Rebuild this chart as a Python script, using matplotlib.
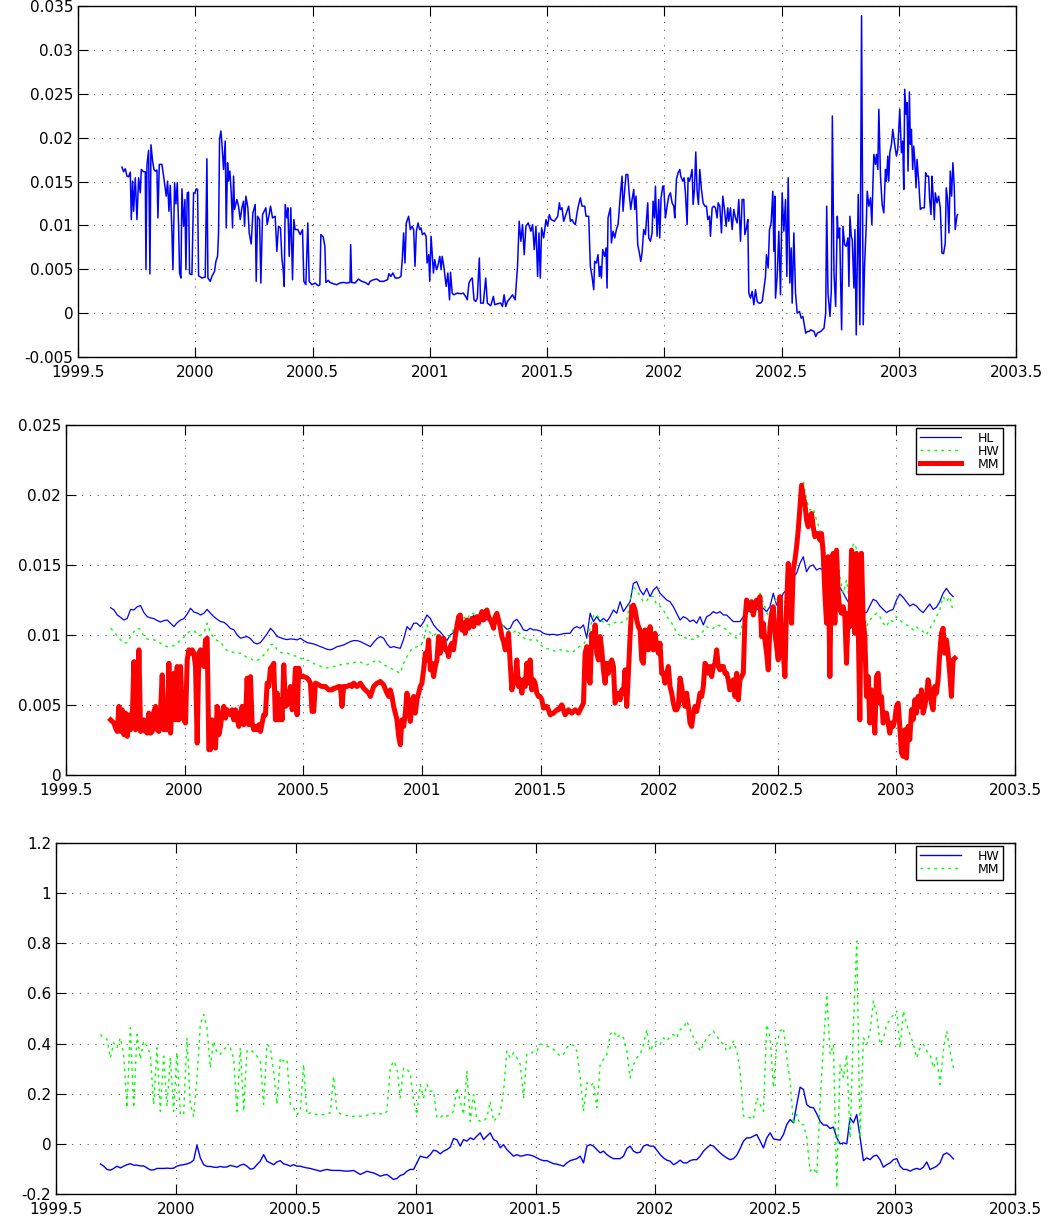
import numpy as np
import matplotlib
matplotlib.use('Agg')
import matplotlib.pyplot as plt
from matplotlib.ticker import FuncFormatter, MultipleLocator

# ---------------- data ----------------
# Panel 1: single series (values in units of 1e-3)
top_t = [1999.6875,1999.6946,1999.7017,1999.7088,1999.7159,1999.7230,1999.7273,1999.7329,1999.7372,1999.7443,
1999.7514,1999.7585,1999.7656,1999.7699,1999.7798,1999.7869,1999.7898,1999.7940,1999.8011,1999.8068,
1999.8111,1999.8182,1999.8239,1999.8295,1999.8366,1999.8409,1999.8466,1999.8579,1999.8650,1999.8764,
1999.8821,1999.8878,1999.8935,1999.9006,1999.9048,1999.9119,1999.9176,1999.9233,1999.9290,1999.9332,
1999.9389,1999.9432,1999.9503,1999.9560,1999.9602,1999.9659,1999.9716,1999.9758,1999.9858,1999.9929,
1999.9986,2000.0043,2000.0099,2000.0142,2000.0284,2000.0426,2000.0497,2000.0540,2000.0639,2000.0710,
2000.0824,2000.0881,2000.0952,2000.0994,2000.1037,2000.1094,2000.1136,2000.1207,2000.1278,2000.1321,
2000.1378,2000.1420,2000.1477,2000.1534,2000.1591,2000.1633,2000.1676,2000.1775,2000.1846,2000.1918,
2000.1989,2000.2060,2000.2102,2000.2159,2000.2244,2000.2301,2000.2386,2000.2457,2000.2557,2000.2599,
2000.2656,2000.2741,2000.2798,2000.2869,2000.3011,2000.3068,2000.3125,2000.3210,2000.3295,2000.3409,
2000.3480,2000.3551,2000.3636,2000.3693,2000.3750,2000.3793,2000.3835,2000.3906,2000.3949,2000.4006,
2000.4077,2000.4148,2000.4204,2000.4261,2000.4375,2000.4474,2000.4574,2000.4631,2000.4716,2000.4801,
2000.4858,2000.4972,2000.5114,2000.5243,2000.5314,2000.5357,2000.5457,2000.5528,2000.5571,2000.5671,
2000.5743,2000.5886,2000.6028,2000.6171,2000.6314,2000.6457,2000.6600,2000.6628,2000.6671,2000.6814,
2000.6957,2000.7100,2000.7243,2000.7386,2000.7457,2000.7600,2000.7743,2000.7886,2000.8028,2000.8200,
2000.8257,2000.8343,2000.8428,2000.8528,2000.8671,2000.8771,2000.8828,2000.8886,2000.8943,2000.9000,
2000.9100,2000.9171,2000.9243,2000.9314,2000.9371,2000.9428,2000.9500,2000.9571,2000.9628,2000.9686,
2000.9771,2000.9843,2000.9886,2000.9957,2001.0000,2001.0057,2001.0114,2001.0157,2001.0214,2001.0286,
2001.0343,2001.0428,2001.0486,2001.0528,2001.0600,2001.0700,2001.0771,2001.0843,2001.0886,2001.0957,
2001.1028,2001.1171,2001.1314,2001.1428,2001.1528,2001.1600,2001.1671,2001.1743,2001.1814,2001.1886,
2001.1957,2001.2028,2001.2114,2001.2171,2001.2286,2001.2386,2001.2457,2001.2600,2001.2714,2001.2771,
2001.2886,2001.3028,2001.3100,2001.3171,2001.3243,2001.3314,2001.3428,2001.3528,2001.3643,2001.3743,
2001.3814,2001.3886,2001.3957,2001.4028,2001.4100,2001.4200,2001.4314,2001.4386,2001.4457,2001.4528,
2001.4600,2001.4657,2001.4714,2001.4771,2001.4857,2001.4957,2001.5028,2001.5100,2001.5171,2001.5314,
2001.5457,2001.5528,2001.5569,2001.5640,2001.5711,2001.5782,2001.5854,2001.5925,2001.5996,2001.6067,
2001.6138,2001.6209,2001.6280,2001.6351,2001.6423,2001.6494,2001.6608,2001.6664,2001.6778,2001.6849,
2001.6920,2001.6992,2001.7034,2001.7105,2001.7177,2001.7233,2001.7276,2001.7319,2001.7376,2001.7461,
2001.7518,2001.7561,2001.7603,2001.7703,2001.7746,2001.7817,2001.7888,2001.7959,2001.8030,2001.8130,
2001.8201,2001.8243,2001.8315,2001.8371,2001.8443,2001.8514,2001.8571,2001.8628,2001.8699,2001.8741,
2001.8798,2001.8869,2001.8940,2001.8997,2001.9054,2001.9125,2001.9196,2001.9239,2001.9296,2001.9339,
2001.9410,2001.9481,2001.9524,2001.9581,2001.9623,2001.9694,2001.9765,2001.9808,2001.9865,2001.9936,
2001.9979,2002.0050,2002.0121,2002.0192,2002.0263,2002.0334,2002.0406,2002.0448,2002.0519,2002.0590,
2002.0662,2002.0704,2002.0790,2002.0847,2002.0903,2002.0975,2002.1017,2002.1074,2002.1131,2002.1188,
2002.1231,2002.1287,2002.1344,2002.1401,2002.1458,2002.1515,2002.1586,2002.1657,2002.1729,2002.1800,
2002.1857,2002.1928,2002.1970,2002.2042,2002.2113,2002.2184,2002.2255,2002.2298,2002.2369,2002.2440,
2002.2497,2002.2568,2002.2639,2002.2710,2002.2753,2002.2824,2002.2895,2002.2966,2002.3037,2002.3108,
2002.3179,2002.3251,2002.3322,2002.3393,2002.3436,2002.3507,2002.3564,2002.3606,2002.3677,2002.3749,
2002.3820,2002.3891,2002.3962,2002.4033,2002.4104,2002.4175,2002.4246,2002.4317,2002.4360,2002.4431,
2002.4488,2002.4559,2002.4630,2002.4673,2002.4716,2002.4744,2002.4815,2002.4886,2002.4957,2002.5028,
2002.5100,2002.5171,2002.5228,2002.5285,2002.5356,2002.5413,2002.5455,2002.5527,2002.5598,2002.5669,
2002.5768,2002.5839,2002.5911,2002.5996,2002.6034,2002.6105,2002.6176,2002.6247,2002.6388,2002.6459,
2002.6530,2002.6672,2002.6813,2002.6884,2002.6927,2002.6983,2002.7068,2002.7125,2002.7168,2002.7238,
2002.7309,2002.7380,2002.7422,2002.7479,2002.7522,2002.7564,2002.7621,2002.7692,2002.7762,2002.7833,
2002.7876,2002.7918,2002.7975,2002.8017,2002.8088,2002.8131,2002.8187,2002.8272,2002.8343,2002.8414,
2002.8485,2002.8541,2002.8612,2002.8655,2002.8726,2002.8796,2002.8853,2002.8896,2002.8938,2002.9009,
2002.9051,2002.9108,2002.9151,2002.9221,2002.9292,2002.9363,2002.9434,2002.9476,2002.9533,2002.9575,
2002.9618,2002.9689,2002.9745,2002.9816,2002.9901,2002.9958,2003.0043,2003.0114,2003.0170,2003.0213,
2003.0255,2003.0312,2003.0354,2003.0397,2003.0454,2003.0496,2003.0539,2003.0595,2003.0638,2003.0680,
2003.0737,2003.0779,2003.0850,2003.0921,2003.0992,2003.1091,2003.1148,2003.1204,2003.1275,2003.1318,
2003.1374,2003.1417,2003.1459,2003.1516,2003.1558,2003.1629,2003.1700,2003.1771,2003.1842,2003.1912,
2003.1983,2003.2026,2003.2083,2003.2139,2003.2196,2003.2253,2003.2309,2003.2366,2003.2408,2003.2479,
2003.2507]
top_v = [16.64,16.11,16.45,15.61,15.54,16.07,10.66,15.04,11.61,15.42,
10.66,15.42,13.71,16.37,16.11,16.11,4.95,16.87,18.55,4.46,
19.19,17.33,16.37,16.18,16.30,10.85,16.95,16.95,15.61,13.33,
15.04,11.61,14.55,9.14,4.95,14.85,12.45,14.85,9.90,4.57,
4.00,14.17,9.90,12.95,4.95,13.71,13.79,4.49,4.38,13.71,
13.71,14.17,14.09,4.27,4.00,4.11,17.59,4.00,3.62,4.19,
4.76,5.90,6.47,9.14,19.80,20.75,19.42,16.37,19.61,9.71,
17.14,15.04,16.18,13.71,9.71,15.61,11.81,12.95,12.19,10.66,
12.00,12.76,9.90,13.33,12.00,9.14,7.88,11.42,12.38,3.62,
11.04,10.66,3.43,11.23,12.00,10.09,10.85,12.19,10.85,11.04,
7.04,9.90,9.71,6.28,4.95,3.05,12.38,10.85,12.00,6.47,
12.00,3.81,10.66,9.52,9.52,8.95,9.52,3.62,3.24,10.28,
3.62,3.24,3.43,3.12,3.24,8.95,8.68,7.62,3.50,3.73,
3.50,3.35,3.24,3.43,3.50,3.43,3.50,7.81,3.50,3.43,
3.88,3.62,3.50,3.24,3.62,3.81,3.88,3.62,3.62,3.81,
4.49,4.19,4.57,4.00,4.00,4.19,6.09,9.14,5.71,10.28,
11.04,9.52,9.90,9.52,5.33,9.33,10.28,9.52,9.71,8.95,
9.14,8.76,5.71,6.66,3.62,8.76,6.47,4.57,6.09,4.95,
5.33,6.47,4.95,6.47,5.33,3.05,4.57,1.52,4.65,2.28,
2.09,2.28,2.21,2.28,1.90,1.52,3.43,3.81,4.00,1.52,
1.33,1.71,6.28,1.14,1.14,4.00,1.14,0.84,1.90,0.95,
1.07,1.14,0.76,2.09,0.76,1.33,1.71,2.09,1.52,5.33,
10.47,8.19,10.09,6.66,9.90,10.28,9.33,10.09,7.24,9.90,
4.19,9.14,4.00,9.71,8.57,10.66,9.90,11.23,10.66,10.47,
11.04,12.57,11.81,12.00,10.47,11.04,11.61,12.19,10.47,10.66,
10.28,10.09,11.42,12.38,13.14,12.19,12.19,11.04,11.04,5.33,
4.19,2.67,5.90,5.71,6.66,4.19,5.33,4.00,7.24,6.47,
7.43,2.86,10.85,12.00,8.00,9.33,8.57,9.52,10.09,13.52,
15.61,11.61,14.09,15.80,15.80,13.33,11.81,12.95,14.09,11.81,
13.33,7.81,6.85,5.90,6.85,9.52,8.95,10.47,12.57,8.57,
8.19,9.14,12.76,10.85,14.47,8.76,12.95,8.57,13.14,14.47,
14.47,10.85,12.19,13.33,13.71,12.57,12.19,10.85,15.23,15.99,
16.37,15.61,15.04,15.42,13.71,10.09,15.42,15.04,15.61,16.37,
12.38,14.09,18.36,13.90,12.38,16.37,14.09,12.57,12.19,12.19,
10.66,11.04,8.76,12.00,12.19,12.00,10.85,12.57,12.19,9.14,
13.33,11.81,9.90,12.00,10.47,12.00,9.52,11.81,10.85,10.28,
12.95,8.19,12.95,12.95,8.95,9.71,10.66,2.28,1.71,2.48,
0.95,2.67,1.33,1.14,1.14,1.33,2.67,4.19,6.66,5.14,
9.52,10.28,13.90,7.04,13.33,1.71,4.19,9.33,2.09,13.71,
9.33,12.95,4.19,15.42,3.43,7.43,1.14,9.14,2.28,0.00,
0.19,-0.57,-0.38,-1.71,-2.28,-2.09,-2.09,-1.90,-2.09,-2.67,
-2.28,-2.09,-1.71,0.00,12.19,2.28,-0.38,2.67,22.47,4.57,
0.76,11.04,8.57,9.71,3.43,-1.90,9.90,7.81,7.62,8.57,
3.05,11.04,8.76,8.38,2.86,9.52,-2.48,13.52,-1.33,33.89,
-1.33,5.33,9.90,13.90,12.19,13.14,10.09,14.47,18.09,16.95,
18.09,16.37,23.23,15.61,12.38,11.42,16.37,15.04,17.90,15.04,
18.28,19.23,20.94,19.42,17.90,18.66,23.23,18.28,19.61,14.09,
25.51,22.66,23.99,16.18,25.21,19.23,20.94,16.37,19.04,17.52,
14.28,17.52,15.04,11.81,12.00,12.00,15.99,15.61,15.61,12.95,
11.23,15.61,13.71,10.66,13.71,12.57,13.33,12.00,6.85,6.78,
8.00,14.28,12.95,9.14,16.18,13.33,17.14,14.47,9.52,11.04,
11.23]

# Panel 2 (values in units of 1e-3); MM on a regular date grid, HL/HW on a coarser one
mid_start, mid_end = 1999.688, 2003.246
mid_mm = [3.94,3.83,3.71,3.35,3.11,4.90,3.11,4.66,2.88,4.42,
2.76,4.30,3.23,3.94,8.10,3.23,3.47,8.94,3.11,3.23,
3.94,3.11,2.99,4.42,2.99,3.11,4.54,4.90,3.23,3.11,
4.66,7.15,3.23,4.66,3.23,7.98,2.99,5.13,7.27,3.94,
7.75,3.94,7.75,4.42,3.94,3.71,8.22,8.94,8.70,8.94,
8.70,7.75,2.28,8.70,8.94,8.70,7.75,9.65,9.77,1.81,
1.81,3.94,2.52,1.92,4.90,2.88,3.47,4.42,4.90,4.06,
4.66,4.42,4.30,4.66,3.94,4.66,4.06,3.47,4.42,4.90,
3.59,3.94,6.92,3.59,7.03,3.71,3.23,3.47,3.23,3.59,
3.11,3.71,4.30,4.30,6.56,6.32,7.63,7.75,7.98,3.94,
5.85,3.94,5.37,3.94,7.87,4.90,5.01,5.61,6.32,4.66,
5.13,7.63,4.30,7.63,
7.03,7.03,7.03,6.99,6.92,6.80,6.56,4.54,4.54,6.56,
6.51,6.44,6.37,6.32,6.32,6.32,6.20,6.08,6.08,6.08,
6.20,6.20,6.27,6.32,6.32,4.90,6.32,6.32,6.32,6.39,
6.44,6.32,6.56,6.44,6.32,6.44,6.56,6.37,6.20,6.08,
5.96,5.85,5.61,5.96,6.32,6.44,6.56,6.61,6.68,6.56,
6.44,6.13,5.85,5.61,6.08,5.61,4.90,4.42,3.94,2.76,
2.16,3.94,3.47,4.42,5.85,4.66,3.83,5.37,5.61,4.42,
5.37,5.85,6.32,6.56,7.51,8.70,8.22,9.65,7.51,7.98,
7.03,7.75,8.22,9.89,8.70,9.65,9.77,8.94,8.94,8.46,
9.17,9.41,8.94,9.89,10.60,11.31,11.43,10.36,10.84,10.12,
11.07,10.48,10.72,11.19,10.60,10.96,11.31,10.84,11.31,11.67,
11.07,11.55,11.79,11.31,11.07,10.84,10.48,11.31,11.55,11.07,
10.60,9.89,9.53,8.94,9.41,10.12,7.98,6.08,6.80,6.56,
8.22,6.32,6.80,5.85,6.80,6.32,7.98,6.56,8.22,6.08,
6.80,6.56,5.85,5.61,5.61,5.37,4.78,
4.85,4.90,4.66,4.30,4.37,4.42,4.54,4.66,4.66,4.85,
5.01,4.66,4.30,4.47,4.66,4.54,4.42,4.54,4.66,4.54,
4.42,4.66,4.90,5.13,8.70,9.17,7.03,6.56,10.12,9.17,
10.72,8.70,8.22,9.89,8.94,7.51,6.56,7.98,7.27,7.98,
8.22,7.75,5.13,5.61,5.85,5.37,6.08,5.85,7.51,4.90,
7.27,9.89,12.02,12.14,11.79,11.07,10.60,10.36,8.22,7.98,
10.36,9.89,8.94,10.60,9.17,8.94,10.12,9.17,8.70,9.41,
7.27,7.27,6.56,7.27,7.75,6.32,5.85,5.13,4.66,4.66,
4.90,6.92,6.32,5.37,4.90,5.85,4.90,3.71,3.47,4.42,
4.90,4.54,5.13,5.85,5.61,6.32,7.98,7.75,7.27,7.75,
7.03,7.75,7.98,8.94,7.75,7.51,7.75,7.75,7.27,7.27,
6.80,6.08,6.32,6.80,5.61,7.27,5.37,6.80,7.03,7.27,
11.07,12.50,12.02,11.79,12.38,11.43,12.02,12.50,12.14,12.74,
9.89,10.84,9.65,8.70,7.51,10.60,11.55,12.02,10.12,9.17,
8.22,12.74,10.12,8.70,7.03,12.02,15.11,
13.45,10.84,14.64,15.35,16.30,17.49,19.15,20.70,19.87,19.39,
18.20,17.73,18.44,18.68,17.73,17.02,17.25,17.25,16.78,17.25,
15.83,12.98,10.84,15.59,7.03,15.35,15.83,10.84,16.06,12.98,
11.79,11.55,12.02,11.31,7.98,11.55,10.60,16.06,15.35,10.12,
15.83,10.84,3.94,15.83,11.07,9.89,5.61,7.03,3.71,6.08,
5.37,2.99,7.03,7.27,5.13,5.61,3.71,4.42,4.42,3.71,
2.99,3.71,3.47,3.94,4.90,5.13,3.47,1.57,1.33,3.23,
1.21,3.47,2.52,4.66,3.94,5.37,4.42,5.61,4.90,6.08,
4.42,4.90,5.61,6.80,6.08,5.13,4.66,6.32,5.85,6.80,
8.70,10.12,10.48,8.70,9.65,8.70,7.27,5.61,8.22,8.34]

mid_hl_end = 2003.239
mid_hl = [11.95,11.79,11.43,11.26,11.07,11.19,11.83,11.79,12.02,12.10,
11.60,11.31,11.22,11.17,11.03,10.93,11.03,11.07,10.84,10.60,
10.88,11.07,11.17,11.50,11.91,11.64,11.57,11.43,11.55,11.83,
11.55,11.31,11.12,10.96,10.91,10.72,10.46,10.38,10.00,9.77,
9.84,9.89,9.74,9.46,9.36,9.46,9.77,10.08,10.48,10.24,
9.89,9.81,9.72,9.67,9.72,9.70,9.65,
9.77,9.60,9.46,9.41,9.36,9.27,9.17,9.08,8.98,8.94,
9.03,9.17,9.22,9.29,9.41,9.53,9.60,9.60,9.53,9.41,
9.29,9.17,9.48,9.74,9.89,9.77,9.36,9.10,9.17,9.10,
9.05,9.70,10.60,10.36,10.84,10.84,10.60,10.93,11.43,11.19,
10.72,10.43,10.22,9.93,9.60,10.00,10.17,10.79,11.31,10.79,
10.96,10.48,11.43,10.84,11.12,11.26,11.07,11.19,10.84,10.93,
10.79,10.65,10.41,10.48,10.96,11.12,10.79,10.36,10.31,10.48,
10.36,10.36,10.29,10.12,
10.05,10.03,10.05,10.00,10.03,10.10,10.12,10.12,10.48,10.60,
10.48,10.72,9.77,11.55,10.96,11.31,10.96,11.19,10.96,11.31,
11.79,11.55,12.38,11.67,12.02,12.38,13.69,13.81,13.21,12.86,
13.33,12.74,13.21,13.45,12.98,12.74,12.50,12.38,12.02,11.55,
11.07,11.31,11.19,10.96,11.07,10.84,11.31,10.72,11.31,11.43,
11.67,11.55,11.67,11.43,11.43,11.19,10.96,10.96,10.96,11.31,
11.79,11.67,12.02,11.79,12.02,11.91,11.67,12.02,12.98,12.14,
12.38,12.98,13.21,
13.45,14.16,14.40,15.11,15.59,14.52,14.92,15.00,14.64,14.76,
14.64,14.52,14.64,14.16,13.69,13.40,13.02,12.55,12.21,11.79,
11.43,11.48,11.55,11.60,12.07,12.55,12.43,12.07,11.83,11.60,
11.74,11.83,12.50,12.93,12.69,12.38,12.07,12.21,12.07,11.79,
11.60,11.91,12.21,11.83,11.98,12.38,12.98,13.33,12.98,12.74]

mid_hw = [10.48,10.24,9.93,9.65,9.41,9.46,9.89,10.24,10.48,10.41,
9.89,9.72,9.65,9.65,9.58,9.41,9.24,9.17,9.17,9.24,
9.41,9.65,9.84,10.12,10.29,10.29,10.12,9.96,10.12,10.84,
10.12,9.81,9.60,9.53,9.13,8.89,8.82,8.75,8.70,8.70,
8.53,8.41,8.34,8.17,8.17,8.34,8.58,8.82,9.29,9.34,
8.94,8.77,8.70,8.70,8.63,8.53,8.46,
8.34,8.27,8.22,8.10,7.96,7.87,7.77,7.68,7.65,7.70,
7.75,7.79,7.87,7.91,7.94,7.98,8.03,8.08,8.06,7.96,
7.87,7.98,8.10,8.22,8.06,7.89,7.75,7.63,7.51,7.39,
7.27,7.98,8.46,8.86,9.10,9.17,9.17,9.65,10.72,10.12,
9.96,10.12,9.96,9.77,9.53,9.89,10.43,11.07,11.31,11.31,
11.07,11.55,11.55,11.07,11.48,11.74,11.91,11.36,11.07,11.07,
10.84,10.65,10.48,10.24,10.19,10.36,10.05,9.81,9.65,9.65,
9.65,9.65,9.34,9.10,
9.03,8.96,8.89,8.82,8.94,8.94,8.86,8.75,8.82,9.05,
9.22,9.36,9.65,10.48,11.36,11.48,11.07,10.91,10.79,10.72,
10.88,10.91,10.84,11.00,11.07,12.50,13.45,13.14,12.79,12.38,
12.45,12.79,12.74,12.14,12.07,11.79,11.31,11.00,10.67,10.12,
9.96,9.84,9.77,9.70,9.70,9.77,10.00,10.29,10.60,10.43,
10.48,10.72,10.65,10.53,10.36,10.12,9.93,9.77,10.00,11.07,
11.83,11.91,11.98,12.38,12.98,12.31,11.67,11.07,12.02,12.67,
12.81,12.50,12.19,
12.98,14.40,16.30,19.39,21.06,19.63,18.92,19.04,18.20,17.49,
16.30,15.35,15.11,14.88,16.30,14.16,12.98,13.93,12.26,16.54,
16.18,16.06,12.02,10.60,11.07,11.31,11.55,11.31,10.84,10.60,
11.07,10.96,11.31,11.07,10.84,10.72,10.60,10.36,10.60,10.36,
10.24,10.00,10.48,10.84,11.31,11.79,12.74,12.38,12.74,11.67]

# Panel 3: regular date grid
bot_start, bot_end = 1999.685, 2003.243
bot_hw = [-0.080,-0.089,-0.102,-0.105,-0.098,-0.089,-0.096,-0.089,-0.083,-0.079,
-0.085,-0.085,-0.088,-0.088,-0.096,-0.104,-0.104,-0.098,-0.098,-0.098,
-0.097,-0.098,-0.097,-0.089,-0.085,-0.083,-0.080,-0.075,-0.065,-0.005,
-0.056,-0.083,-0.090,-0.090,-0.093,-0.094,-0.090,-0.093,-0.092,-0.086,
-0.089,-0.093,-0.085,-0.081,-0.089,-0.101,-0.098,-0.083,-0.069,-0.043,
-0.069,-0.076,-0.083,-0.072,-0.067,-0.080,-0.083,-0.089,-0.083,-0.089,
-0.089,-0.093,-0.096,-0.098,-0.102,-0.105,-0.109,-0.105,-0.102,-0.105,
-0.106,-0.106,-0.106,-0.108,-0.109,-0.108,-0.106,-0.114,-0.122,-0.116,
-0.109,-0.113,-0.116,-0.122,-0.129,-0.125,-0.122,-0.132,-0.142,-0.138,
-0.126,-0.122,-0.109,-0.102,-0.102,-0.076,-0.049,-0.053,-0.056,-0.043,
-0.025,-0.029,-0.040,-0.029,-0.023,-0.013,0.021,0.017,-0.009,0.017,
0.011,0.024,0.017,0.031,0.044,0.017,0.031,0.044,0.017,0.011,
-0.016,-0.003,-0.023,-0.036,-0.049,-0.043,-0.049,-0.047,-0.043,-0.045,
-0.049,-0.056,-0.063,-0.067,
-0.067,-0.073,-0.079,-0.081,-0.085,-0.089,-0.076,-0.067,-0.063,-0.059,
-0.049,-0.076,-0.009,-0.003,-0.009,-0.023,-0.036,-0.029,-0.043,-0.052,
-0.059,-0.059,-0.059,-0.049,-0.019,-0.009,-0.029,-0.036,-0.033,-0.009,
-0.003,-0.009,-0.009,-0.025,-0.043,-0.056,-0.065,-0.069,-0.083,-0.076,
-0.065,-0.076,-0.076,-0.067,-0.063,-0.063,-0.049,-0.029,-0.016,-0.005,
-0.009,-0.023,-0.036,-0.047,-0.056,-0.063,-0.059,-0.045,-0.019,0.011,
0.024,0.024,0.031,0.037,0.011,-0.016,0.024,0.044,0.020,0.017,
0.015,0.037,0.077,
0.097,0.084,0.157,0.226,0.217,0.157,0.146,0.144,0.120,0.090,
0.075,0.075,0.061,0.067,0.024,0.000,0.004,0.000,0.104,0.084,
0.117,0.024,-0.067,-0.056,-0.063,-0.049,-0.045,-0.063,-0.093,-0.083,
-0.076,-0.063,-0.059,-0.089,-0.102,-0.102,-0.109,-0.102,-0.098,-0.102,
-0.093,-0.072,-0.102,-0.096,-0.089,-0.076,-0.043,-0.036,-0.045,-0.060]

bot_mm = [0.436,0.423,0.417,0.343,0.403,0.383,0.423,0.357,0.144,0.463,
0.144,0.436,0.337,0.410,0.390,0.357,0.157,0.383,0.130,0.350,
0.150,0.343,0.130,0.363,0.117,0.117,0.423,0.157,0.110,0.263,
0.476,0.516,0.463,0.303,0.410,0.363,0.357,0.377,0.386,0.383,
0.343,0.130,0.383,0.130,0.370,0.377,0.363,0.350,0.330,0.157,
0.397,0.383,0.290,0.157,0.343,0.330,0.337,0.157,0.144,0.117,
0.130,0.317,0.117,0.124,0.120,0.117,0.114,0.117,0.120,0.124,
0.270,0.130,0.120,0.117,0.113,0.110,0.110,0.112,0.110,0.110,
0.114,0.117,0.121,0.124,0.120,0.117,0.130,0.303,0.330,0.303,
0.184,0.303,0.297,0.283,0.170,0.117,0.237,0.184,0.237,0.210,
0.210,0.104,0.104,0.117,0.110,0.117,0.130,0.224,0.170,0.117,
0.290,0.090,0.197,0.097,0.090,0.090,0.104,0.170,0.090,0.104,
0.124,0.210,0.370,0.343,0.363,0.343,0.317,0.184,0.357,0.357,
0.370,0.370,0.397,0.397,
0.390,0.386,0.377,0.363,0.350,0.357,0.383,0.397,0.393,0.370,
0.263,0.130,0.244,0.230,0.244,0.144,0.317,0.337,0.357,0.436,
0.450,0.423,0.436,0.423,0.370,0.263,0.317,0.343,0.357,0.397,
0.456,0.370,0.397,0.410,0.397,0.423,0.410,0.430,0.436,0.423,
0.456,0.463,0.490,0.456,0.423,0.403,0.370,0.397,0.423,0.436,
0.450,0.430,0.410,0.397,0.370,0.383,0.410,0.370,0.290,0.110,
0.110,0.104,0.097,0.184,0.157,0.130,0.476,0.423,0.224,0.397,
0.450,0.463,0.343,
0.250,0.077,0.117,0.077,0.077,0.024,-0.109,-0.096,-0.122,0.157,
0.397,0.596,0.357,0.397,-0.176,0.317,0.263,0.357,0.024,0.476,
0.809,0.024,0.423,0.397,0.450,0.570,0.516,0.397,0.423,0.476,
0.496,0.516,0.530,0.383,0.530,0.476,0.436,0.397,0.343,0.383,
0.397,0.370,0.357,0.303,0.343,0.237,0.370,0.450,0.370,0.303]

x_ticks = [1999.5, 2000, 2000.5, 2001, 2001.5, 2002, 2002.5, 2003, 2003.5]

# ---------------- drawing ----------------
BLUE = (0, 0, 1)
GREEN = (0, 1, 0)
RED = (1, 0, 0)

plt.rcParams['font.family'] = ['DejaVu Sans']

fig = plt.figure(figsize=(10.56, 12.16), dpi=100)
ax1 = fig.add_axes([78/1056, 1-357/1216, 938/1056, 351/1216])
ax2 = fig.add_axes([66/1056, 1-775/1216, 949/1056, 350/1216])
ax3 = fig.add_axes([56/1056, 1-1194/1216, 959/1056, 351/1216])


def fmt(v, pos):
    if abs(v) < 1e-12:
        return '0'
    return '%g' % round(v, 6)


def style(ax, ylim, ystep):
    ax.set_xlim(1999.5, 2003.5)
    ax.set_ylim(*ylim)
    ax.set_xticks(x_ticks)
    ax.yaxis.set_major_locator(MultipleLocator(ystep))
    ax.xaxis.set_major_formatter(FuncFormatter(fmt))
    ax.yaxis.set_major_formatter(FuncFormatter(fmt))
    ax.grid(True, linestyle=(0, (1, 6)), color='#555555', linewidth=0.8)
    ax.tick_params(direction='in', top=True, right=True, length=7,
                   width=0.8, labelsize=11)
    ax.tick_params(axis='x', pad=6)
    ax.tick_params(axis='y', pad=3.5)
    for s in ax.spines.values():
        s.set_linewidth(1.0)
        s.set_color('black')
    ax.set_axisbelow(True)


def legend(ax, anchor):
    lg = ax.legend(loc='upper right', bbox_to_anchor=anchor, fontsize=9,
                   frameon=True, fancybox=False, edgecolor='black',
                   framealpha=1, borderpad=0.3, labelspacing=0.0,
                   handlelength=3.3, handletextpad=1.3, borderaxespad=0.0)
    lg.get_frame().set_linewidth(1.0)
    return lg


t1 = np.array(top_t)
ax1.plot(t1, np.array(top_v) / 1000.0, color=BLUE, lw=1.1)
style(ax1, (-0.005, 0.035), 0.005)

t_mm = np.linspace(mid_start, mid_end, len(mid_mm))
t_hl = np.linspace(mid_start, mid_hl_end, len(mid_hl))
t_hw = np.linspace(mid_start, mid_hl_end, len(mid_hw))
ax2.plot(t_hl, np.array(mid_hl) / 1000.0, color=BLUE, lw=0.9, label='HL')
ax2.plot(t_hw, np.array(mid_hw) / 1000.0, color=GREEN, lw=1.0,
         linestyle=(0, (2, 3)), label='HW')
ax2.plot(t_mm, np.array(mid_mm) / 1000.0, color=RED, lw=3.6, label='MM')
style(ax2, (0, 0.025), 0.005)
legend(ax2, ((1003 - 66) / 949, 1 - 3 / 350))

t_b = np.linspace(bot_start, bot_end, len(bot_hw))
t_b2 = np.linspace(bot_start, bot_end, len(bot_mm))
ax3.plot(t_b, bot_hw, color=BLUE, lw=1.0, label='HW')
ax3.plot(t_b2, bot_mm, color=GREEN, lw=1.0, linestyle=(0, (2, 3)), label='MM')
style(ax3, (-0.2, 1.2), 0.2)
legend(ax3, ((1003 - 56) / 959, 1 - 3 / 351))

fig.savefig('out.png', dpi=100)
